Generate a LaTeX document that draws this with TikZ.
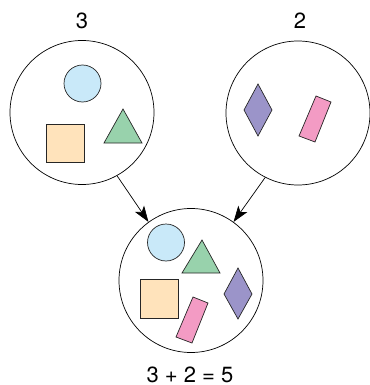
\documentclass[tikz,border=0pt]{standalone}
\usepackage{fontspec}
\setmainfont{TeX Gyre Heros}
\usetikzlibrary{arrows.meta}
\definecolor{cblue}{HTML}{C9E9F9}
\definecolor{cpeach}{HTML}{FFE3BB}
\definecolor{cgreen}{HTML}{98D2AC}
\definecolor{cpurple}{HTML}{9B94C9}
\definecolor{cpink}{HTML}{F39BC4}
\tikzset{
  setcircle/.style={circle,draw,line width=0.7pt,minimum size=144pt,inner sep=0pt},
  shapeline/.style={draw=black!85,line width=0.7pt},
  lbl/.style={font=\fontsize{22}{25}\selectfont,inner sep=0pt},
  conn/.style={line width=0.7pt,-{Stealth[length=16pt,width=11pt,inset=4pt]}}
}
\begin{document}
\begin{tikzpicture}[x=1pt,y=-1pt]
\useasboundingbox (0,0) rectangle (369,385);
% labels
\node[lbl] (t3) at (82,20.5) {3};
\node[lbl] (t2) at (300,20.5) {2};
\node[lbl] (sum) at (190,374.5) {3 + 2 = 5};
% set circles
\node[setcircle] (L) at (82,112.5) {};
\node[setcircle] (R) at (298,113) {};
\node[setcircle] (B) at (191,280.5) {};
% left contents
\path[shapeline,fill=cblue] (82.5,83.5) circle[radius=18.5];
\path[shapeline,fill=cpeach] (46,124) rectangle (84,162);
\path[shapeline,fill=cgreen] (123,109) -- (142,143) -- (104,143) -- cycle;
% right contents
\path[shapeline,fill=cpurple] (258,84) -- (272,110) -- (258,136) -- (244,110) -- cycle;
\path[shapeline,fill=cpink] (316,96) -- (331,102) -- (315,142) -- (299,136) -- cycle;
% bottom contents
\path[shapeline,fill=cblue] (166,242.5) circle[radius=18.5];
\path[shapeline,fill=cgreen] (202,240) -- (220,273) -- (182,273) -- cycle;
\path[shapeline,fill=cpeach] (140,279) rectangle (178,318);
\path[shapeline,fill=cpurple] (238,268) -- (252,294) -- (238,319) -- (224,294) -- cycle;
\path[shapeline,fill=cpink] (193,297) -- (208,303) -- (192,343) -- (176,337) -- cycle;
% connectors
\draw[conn] (L.-61.5) -- (B.126.3);
\draw[conn] (R.-117) -- (B.54.3);
\end{tikzpicture}
\end{document}
